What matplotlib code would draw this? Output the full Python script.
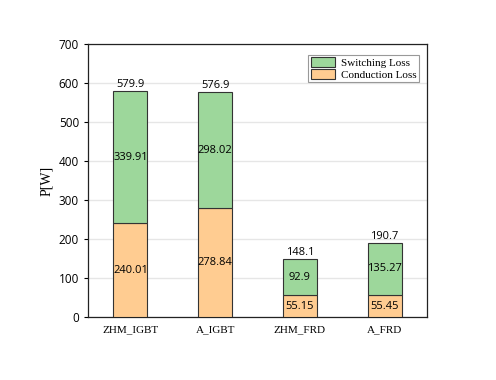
import numpy as np
import matplotlib.pyplot as plt

categories = ['ZHM_IGBT', 'A_IGBT', 'ZHM_FRD', 'A_FRD']
conduction = [240.01, 278.84, 55.15, 55.45]
switching = [339.91, 298.02, 92.9, 135.27]
totals = ['579.9', '576.9', '148.1', '190.7']

green = '#9dd79b'
orange = '#ffcc91'
num_font = 'Open Sans'
cn_font = 'Liberation Serif'

fig = plt.figure(figsize=(4.96, 3.8), dpi=100)
ax = fig.add_axes([88/496, 1 - 317/380, 339/496, 273/380])

x = np.arange(len(categories))
w = 0.4
b1 = ax.bar(x, conduction, w, color=orange, edgecolor='#333333', linewidth=0.8,
            label='Conduction Loss', zorder=3)
b2 = ax.bar(x, switching, w, bottom=conduction, color=green, edgecolor='#333333',
            linewidth=0.8, label='Switching Loss', zorder=3)

for i in range(len(categories)):
    ax.text(x[i], conduction[i] / 2, f'{conduction[i]:g}', ha='center', va='center',
            fontsize=8, family=num_font, zorder=4)
    ax.text(x[i], conduction[i] + switching[i] / 2, f'{switching[i]:g}', ha='center',
            va='center', fontsize=8, family=num_font, zorder=4)
    ax.text(x[i], conduction[i] + switching[i] + 2, totals[i], ha='center', va='bottom',
            fontsize=8, family=num_font, zorder=4)

ax.set_xlim(-0.5, 3.5)
ax.set_ylim(0, 700)
ax.set_yticks(range(0, 701, 100))
ax.set_xticks(x)
ax.set_xticklabels(categories, family=cn_font, fontsize=8)
for lab in ax.get_yticklabels():
    lab.set_family(num_font)
    lab.set_fontsize(8.5)
ax.set_ylabel('P[W]', family=cn_font, fontsize=10)
ax.yaxis.grid(True, color='#e6e6e6', linewidth=1, zorder=0)
ax.set_axisbelow(True)
ax.tick_params(axis='both', length=3, width=0.8)
ax.tick_params(axis='x', length=0, pad=6)
for s in ax.spines.values():
    s.set_linewidth(0.9)
    s.set_color('#222222')

handles = [b2, b1]
leg = ax.legend(handles, ['Switching Loss', 'Conduction Loss'], loc='upper right',
                bbox_to_anchor=(0.975, 0.96), fancybox=False, framealpha=1,
                edgecolor='#999999', prop={'family': cn_font, 'size': 8},
                handlelength=2.2, handleheight=1.0, borderpad=0.2, labelspacing=0.1,
                handletextpad=0.5, borderaxespad=0)
leg.get_frame().set_linewidth(0.8)

fig.savefig('out.png', dpi=100)
